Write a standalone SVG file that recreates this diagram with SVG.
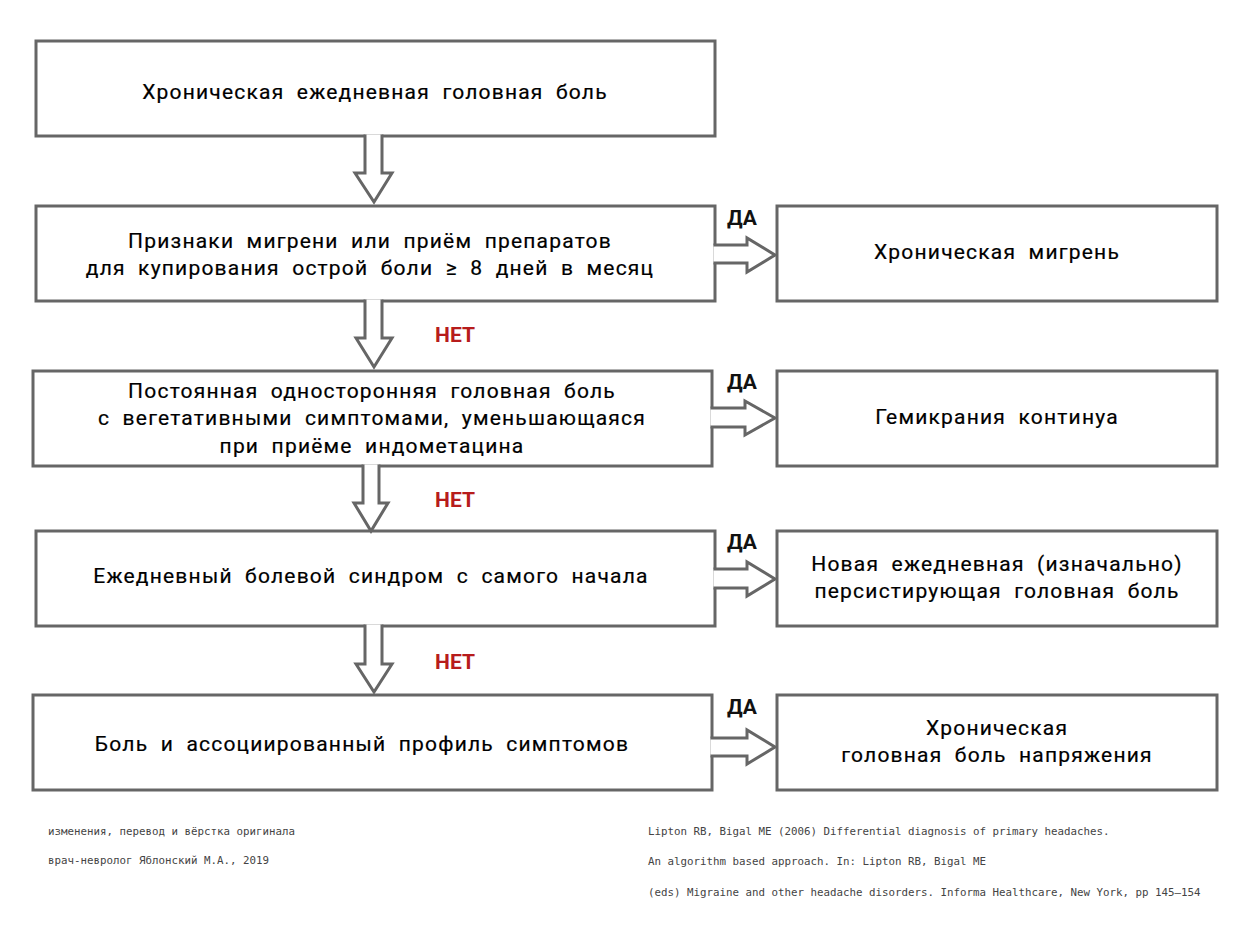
<svg xmlns="http://www.w3.org/2000/svg" width="1250" height="938" viewBox="0 0 1250 938">
<style>
.box{fill:#fff;stroke:#666;stroke-width:3}
.arr{fill:#fff;stroke:#666;stroke-width:3;stroke-linejoin:miter}
.t{font-family:Roboto,"Noto Sans",sans-serif;font-weight:400;font-size:21px;letter-spacing:1.2px;word-spacing:6px;fill:#000;stroke:#000;stroke-width:0.2;text-anchor:middle}
.da{font-family:Roboto,"Noto Sans",sans-serif;font-weight:700;font-size:21px;fill:#111;text-anchor:middle}
.net{font-family:Roboto,"Noto Sans",sans-serif;font-weight:700;font-size:21px;fill:#b71c1c;text-anchor:middle}
.f{font-family:"DejaVu Sans Mono","Liberation Mono",monospace;font-size:10.8px;fill:#444}
</style>
<rect width="1250" height="938" fill="#fff"/>
<g id="n1"><rect class="box" x="36" y="41" width="679" height="95"/><text class="t" x="375" y="99">Хроническая ежедневная головная боль</text></g>
<g id="n2"><rect class="box" x="36" y="206" width="679" height="95"/><text class="t" x="370" y="248">Признаки мигрени или приём препаратов</text><text class="t" x="370" y="275">для купирования острой боли ≥ 8 дней в месяц</text></g>
<g id="n2r"><rect class="box" x="777" y="206" width="440" height="95"/><text class="t" x="997" y="259">Хроническая мигрень</text></g>
<g id="n3"><rect class="box" x="33" y="371" width="679" height="95"/><text class="t" x="372" y="398">Постоянная односторонняя головная боль</text><text class="t" x="372" y="425">с вегетативными симптомами, уменьшающаяся</text><text class="t" x="372" y="453">при приёме индометацина</text></g>
<g id="n3r"><rect class="box" x="777" y="371" width="440" height="95"/><text class="t" x="997" y="424">Гемикрания континуа</text></g>
<g id="n4"><rect class="box" x="36" y="531" width="679" height="95"/><text class="t" x="371" y="583">Ежедневный болевой синдром с самого начала</text></g>
<g id="n4r"><rect class="box" x="777" y="531" width="440" height="95"/><text class="t" x="997" y="571">Новая ежедневная (изначально)</text><text class="t" x="997" y="598">персистирующая головная боль</text></g>
<g id="n5"><rect class="box" x="33" y="695" width="679" height="95"/><text class="t" x="362" y="751">Боль и ассоциированный профиль симптомов</text></g>
<g id="n5r"><rect class="box" x="777" y="695" width="440" height="95"/><text class="t" x="997" y="735">Хроническая</text><text class="t" x="997" y="762">головная боль напряжения</text></g>
<g id="connectors">
<path class="arr" d="M365,134.5 V173 H355 L374,202 L392,173 H382 V134.5"/>
<path class="arr" d="M365,299.5 V338 H356 L374,367 L392,338 H382 V299.5"/>
<path class="arr" d="M363,464.5 V503 H354 L371,531 L388,503 H379 V464.5"/>
<path class="arr" d="M365,624.5 V664 H356 L374,692 L392,664 H382 V624.5"/>
<path class="arr" d="M713.5,245 H747 V238 L775,255 L747,272 V263 H713.5"/>
<path class="arr" d="M710.5,408 H745 V401 L775,418 L745,435 V427 H710.5"/>
<path class="arr" d="M713.5,569 H747 V562 L775,579 L747,596 V588 H713.5"/>
<path class="arr" d="M710.5,738 H747 V730 L775,747 L747,764 V756 H710.5"/>
<text class="da" x="742" y="225">ДА</text>
<text class="da" x="742" y="389">ДА</text>
<text class="da" x="742" y="549">ДА</text>
<text class="da" x="742" y="714">ДА</text>
<text class="net" x="455" y="342">НЕТ</text>
<text class="net" x="455" y="507">НЕТ</text>
<text class="net" x="455" y="669">НЕТ</text>
</g>
<g id="footer">
<text class="f" x="48" y="835">изменения, перевод и вёрстка оригинала</text>
<text class="f" x="48" y="864">врач-невролог Яблонский М.А., 2019</text>
<text class="f" x="648" y="835">Lipton RB, Bigal ME (2006) Differential diagnosis of primary headaches.</text>
<text class="f" x="648" y="865">An algorithm based approach. In: Lipton RB, Bigal ME</text>
<text class="f" x="648" y="896">(eds) Migraine and other headache disorders. Informa Healthcare, New York, pp 145–154</text>
</g>
</svg>
